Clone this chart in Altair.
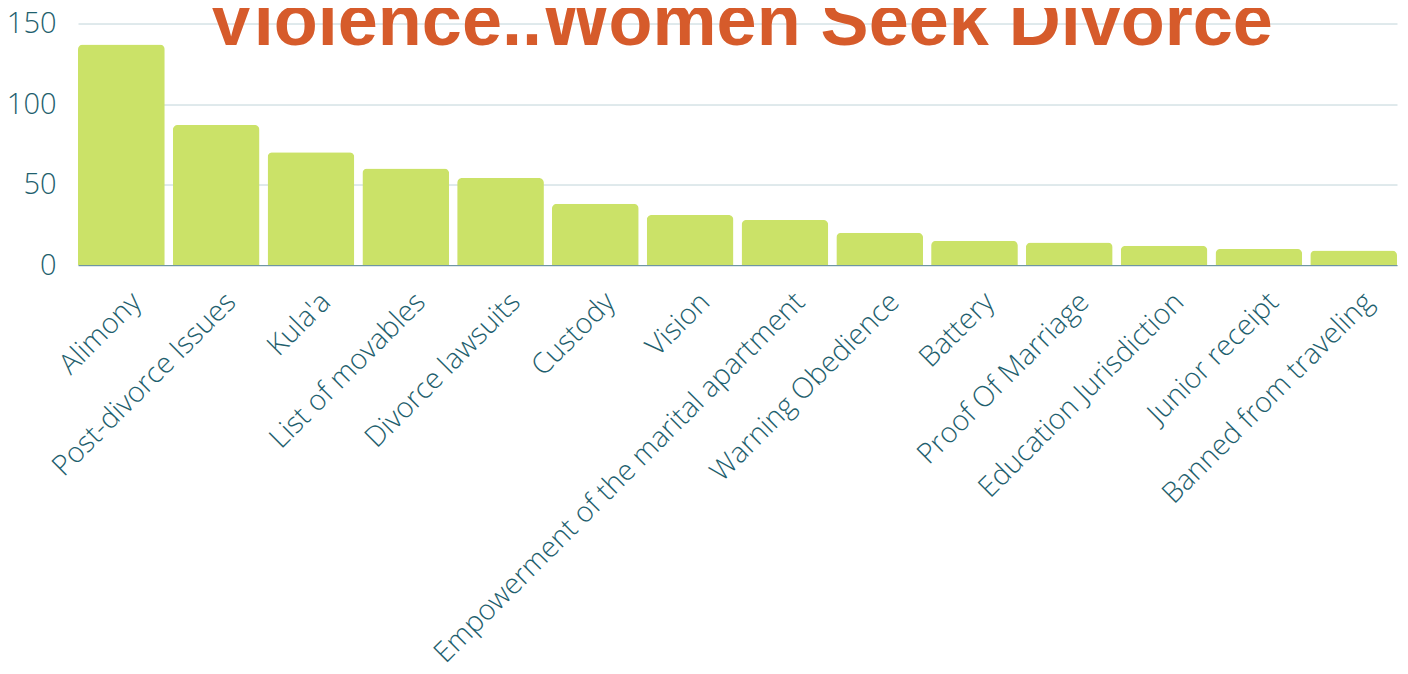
import altair as alt
import pandas as pd

categories = [
    "Alimony", "Post-divorce Issues", "Kula'a", "List of movables",
    "Divorce lawsuits", "Custody", "Vision",
    "Empowerment of the marital apartment", "Warning Obedience", "Battery",
    "Proof Of Marriage", "Education Jurisdiction", "Junior receipt",
    "Banned from traveling",
]
values = [137, 87, 70, 60, 54, 38, 31, 28, 20, 15, 14, 12, 10, 9]
y_ticks = [0, 50, 100, 150]
title_text = "Violence..Women Seek Divorce"

df = pd.DataFrame({"category": categories, "value": values})

W = 1319
H = 241.5
TEAL = "#1f5f6e"

bars = alt.Chart(df).mark_bar(
    color="#cbe268", cornerRadiusTopLeft=5, cornerRadiusTopRight=5
).encode(
    x=alt.X("category:N", sort=None, title=None,
            scale=alt.Scale(paddingInner=0.085, paddingOuter=0),
            axis=alt.Axis(labelAngle=-45, labelAlign="right", labelBaseline="top",
                          labelFontSize=28.5, labelFont="Open Sans", labelFontWeight=300,
                          labelColor=TEAL, labelPadding=22, labelOffset=5, ticks=False,
                          domain=True, domainColor="#6f96a3", labelLimit=0,
                          zindex=0)),
    y=alt.Y("value:Q", title=None,
            scale=alt.Scale(domain=[0, 150], nice=False),
            axis=alt.Axis(values=y_ticks, labelFontSize=29, labelFont="Open Sans",
                          labelFontWeight=300, labelColor=TEAL, labelPadding=22,
                          ticks=False, domain=False, gridColor="#c0d4d9",
                          gridWidth=1, zindex=0)),
)

title = alt.Chart(pd.DataFrame({"t": [title_text]})).mark_text(
    font="Liberation Sans", fontWeight="bold", fontSize=72, color="#d65b2b",
    align="center", baseline="alphabetic"
).encode(text="t:N", x=alt.value(662), y=alt.value(21.5))

chart = alt.layer(bars, title).properties(
    width=W, height=H,
    autosize=alt.AutoSizeParams(type="none"),
    padding={"left": 70, "top": 15.5, "right": 3, "bottom": 409},
).configure_view(stroke=None)

chart.save("out.html", embed_options={"renderer": "svg", "actions": False})
